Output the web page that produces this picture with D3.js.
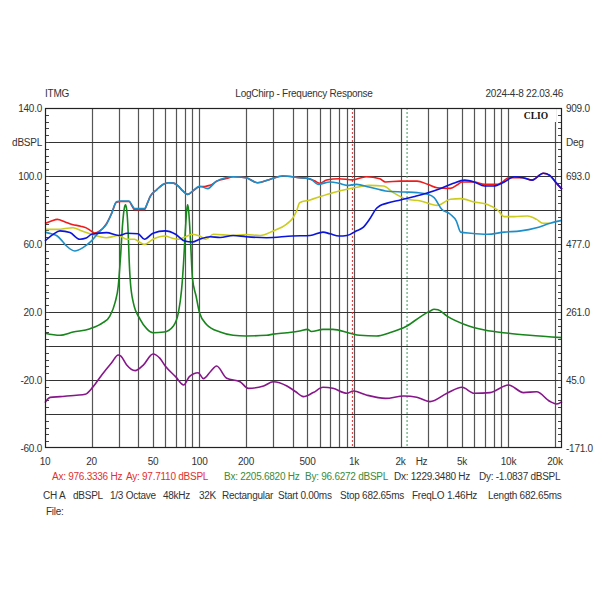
<!DOCTYPE html>
<html>
<head>
<meta charset="utf-8">
<script src="https://cdn.jsdelivr.net/npm/d3@7"></script>
<style>
body{margin:0;background:#fff;}
svg text{font-family:"Liberation Sans",Arial,sans-serif;letter-spacing:-0.25px;}
</style>
</head>
<body>
<svg class="chart"></svg>
<script>
// tick values / labels
var freqGrid = [20,30,40,50,60,70,80,90,100,200,300,400,500,600,700,800,900,1000,2000,3000,4000,5000,6000,7000,8000,9000,10000,20000];
var freqLabels = [[10,"10"],[20,"20"],[50,"50"],[100,"100"],[200,"200"],[500,"500"],[1000,"1k"],[2000,"2k"],[5000,"5k"],[10000,"10k"],[20000,"20k"]];
var dbTicks = [140,100,60,20,-20,-60];
var degTicks = [909,693,477,261,45,-171];

// series: [Hz, dBSPL]
var redData = [[10,72],[11,73.5],[12,74.5],[13.5,73],[15,71.5],[17,70.5],[18.5,69.5],[20,67.5],[21,66.5],[22.5,67.5],[25,72],[27,78],[29,84.5],[31,85],[35,85],[36.5,82.5],[38,80.2],[44,80.2],[46,84],[48,88],[53,92],[58,95],[63,96],[68,95.8],[73,94],[78,91.2],[84,89.2],[90,91],[100,93.7],[110,94],[117,94.5],[130,97],[150,98.5],[165,99.6],[200,99],[238,96],[285,98],[345,100],[445,99],[500,98.5],[560,97],[600,95.7],[665,97.6],[800,98.4],[976,97.7],[1200,99.6],[1470,98.4],[1600,96.5],[2000,97],[2560,97],[3000,95.1],[3450,93.1],[4200,92.7],[4700,95],[5000,96.5],[6000,96.5],[7000,95.1],[8500,95.1],[9300,97],[10000,99],[12400,99],[14200,97.6],[16800,101.6],[18500,100.4],[20300,96.1],[22200,92.2]];
var yellowData = [[10,68.6],[12,68.6],[15.2,69.6],[17,68],[20,65.7],[25,63.7],[30,65],[33.8,62.8],[38,62.8],[41,61],[44,59.8],[50,62.8],[60,64.7],[66,63.5],[73,62.8],[80,64],[90,65.7],[100,64.7],[110,62.8],[123,65.7],[165,65],[200,65.5],[247,65],[300,67.7],[365,71.6],[400,75],[425,79.4],[445,84.3],[520,85.9],[600,87.8],[730,90.2],[900,92.2],[1090,93.7],[1250,94.5],[1550,94.1],[1800,90.2],[2200,86.3],[2700,85.3],[3450,82.7],[4200,86.3],[4900,86.7],[6000,84.7],[7300,83.3],[8500,80],[9400,76.1],[10900,76.1],[13300,76.5],[15200,74.5],[16700,72.2],[18500,72.2]];
var cyanData = [[10,67],[11,66],[12,64.7],[13,61.5],[13.8,58.8],[15.6,55.9],[17.6,57.9],[20,61.8],[22.7,67.7],[25,71.6],[27,78],[29,84.8],[31,85.3],[35,85.3],[36.5,83],[38,80.8],[44,80.8],[46,84],[48,88],[53,92],[58,95],[63,96],[68,95.8],[73,94],[78,91.2],[84,89.2],[90,91],[100,94],[113,92.6],[129,97],[165,99.6],[200,99],[238,96],[285,98],[345,100],[445,99],[520,98.4],[585,95.1],[700,96.5],[800,95.7],[900,94.5],[1040,95.1],[1250,93.5],[1470,92],[1600,91.2],[2100,90.6],[2560,90.2],[3000,89.2],[3300,87.3],[3700,80.4],[4200,77.5],[4600,73.5],[4900,67],[5700,66.3],[7300,65.7],[9400,67],[12000,67.7],[15200,69.6],[18600,72.2],[22200,73.9]];
var blueData = [[10,61.8],[11.3,65.7],[12.5,67.7],[14.5,66.7],[16.8,62.8],[18.5,63.5],[20,65.7],[25,66.7],[30,65],[34,66.3],[40,66],[44,62.8],[50,66.3],[60,67.7],[70,65.7],[80,61.8],[90,61.2],[100,62.8],[117,64.3],[136,63.8],[165,65],[200,64.3],[272,63.7],[400,64.7],[520,65],[630,67],[700,66],[800,64.7],[900,65],[1040,67.8],[1140,69.6],[1270,75],[1400,81],[1470,82.5],[1620,83.9],[2000,85.9],[2430,87.8],[2940,89.8],[3600,92.5],[4400,95.7],[5200,97.6],[6000,96.5],[7000,94.1],[8000,94.1],[9400,96.5],[10900,99.6],[12400,99],[14200,97.6],[16800,101.6],[18500,100.4],[20300,96.1],[22200,92.2]];
var greenData = [[10,7.5],[12.5,6.3],[15.2,8.2],[19.6,10.2],[23.7,13.7],[26.3,17.6],[28.4,25.5],[29.8,35.3],[30.8,52],[31.8,72],[32.6,81],[33.2,83],[33.8,80],[34.5,68],[35,52],[35.6,39],[37.3,25.5],[41.3,15.7],[45.5,10.2],[50,7.8],[59,8.2],[67.8,11.8],[73,19.6],[76.6,33.3],[79,50],[81,68],[82.7,80],[83.7,83],[85,80],[86.5,70],[88,57],[90,40],[95,29.4],[100,19.6],[111,12.7],[136,8.2],[165,6.3],[200,5.9],[272,6.3],[300,7],[368,7.8],[445,8.8],[500,9.8],[530,8.5],[630,9.8],[730,9.8],[940,7.5],[1090,6.3],[1400,5.9],[1700,7.8],[2200,11.8],[2700,17.3],[3100,20.5],[3300,21.6],[3500,21.3],[4000,17.6],[5200,12.7],[7000,9.4],[10000,7.5],[13700,6.3],[22200,4.9]];
var purpleData = [[10,-33.3],[10.8,-30.2],[12.5,-29.8],[16,-29],[18.2,-28.4],[20.5,-23.9],[23.3,-17],[27,-9.8],[29.8,-5.3],[31,-6],[33.8,-11.2],[38.3,-14.5],[43.3,-11.2],[50,-4.7],[55.5,-7.3],[60,-11.8],[70,-18],[79,-22.9],[86,-18],[98,-15.7],[106,-19.2],[118,-15],[129,-11.8],[150,-19],[183,-21],[207,-24.9],[260,-23.5],[300,-21],[368,-23.5],[420,-26.9],[470,-29.8],[545,-27.4],[630,-24.3],[730,-24.9],[900,-27.8],[990,-26.5],[1200,-28.8],[1600,-30.8],[2100,-29.4],[2550,-30.2],[3100,-32.7],[4000,-27.8],[5000,-24.3],[6000,-27.8],[7600,-27.4],[10000,-22.9],[12500,-27.4],[15200,-26.9],[18600,-32.7],[20500,-34.1],[22200,-32.7]];

var markerA = 976.3336, markerB = 2205.682;

(function(){
var svg = d3.select(".chart").attr("width",600).attr("height",600);

var pl = 45, pr = 562, pt = 108, pb = 448;
var x = d3.scaleLog().domain([10,22200]).range([pl,pr]);
var y = d3.scaleLinear().domain([-60,140]).range([pb,pt]);
var yDeg = d3.scaleLinear().domain([-171,909]).range([pb,pt]);

// header
var head = svg.append("g").attr("font-size","10px").attr("fill","#333");
head.append("text").attr("x",45).attr("y",97).text("ITMG");
head.append("text").attr("x",304).attr("y",97).attr("text-anchor","middle").text("LogChirp - Frequency Response");
head.append("text").attr("x",563).attr("y",97).attr("text-anchor","end").text("2024-4-8 22.03.46");

// grid
svg.append("g").selectAll("line").data(freqGrid).enter().append("line")
  .attr("x1",function(d){return Math.round(x(d))+0.5;})
  .attr("x2",function(d){return Math.round(x(d))+0.5;})
  .attr("y1",pt).attr("y2",pb)
  .attr("stroke","#555").attr("stroke-width",1.2);

svg.append("g").selectAll("line").data(d3.range(-40,140,20)).enter().append("line")
  .attr("x1",pl).attr("x2",pr)
  .attr("y1",function(d){return Math.round(y(d))+0.5;})
  .attr("y2",function(d){return Math.round(y(d))+0.5;})
  .attr("stroke","#333").attr("stroke-width",1);

// minor ticks on both sides
var minor = d3.range(-56,140,4);
svg.append("g").selectAll("line").data(minor).enter().append("line")
  .attr("x1",pl).attr("x2",pl+4)
  .attr("y1",function(d){return Math.round(y(d))+0.5;})
  .attr("y2",function(d){return Math.round(y(d))+0.5;})
  .attr("stroke","#444");
svg.append("g").selectAll("line").data(minor).enter().append("line")
  .attr("x1",pr-4).attr("x2",pr)
  .attr("y1",function(d){return Math.round(y(d))+0.5;})
  .attr("y2",function(d){return Math.round(y(d))+0.5;})
  .attr("stroke","#444");

// cursors
svg.append("line")
  .attr("x1",x(markerA)).attr("x2",x(markerA)).attr("y1",pt).attr("y2",pb)
  .attr("stroke","#e03030").attr("stroke-dasharray","2,2").attr("stroke-width",1);
svg.append("line")
  .attr("x1",x(markerB)).attr("x2",x(markerB)).attr("y1",pt).attr("y2",pb)
  .attr("stroke","#3a9a5a").attr("stroke-dasharray","2,2").attr("stroke-width",1);

// CLIO badge (covers the grid at the top right)
svg.append("rect").attr("x",510).attr("y",109).attr("width",46).attr("height",13).attr("fill","#fff");
svg.append("text").attr("x",536).attr("y",119).attr("text-anchor","middle")
  .attr("font-size","9.5px").attr("font-weight","bold")
  .style("font-family","'Liberation Serif','DejaVu Serif',serif")
  .style("letter-spacing","0")
  .attr("fill","#111").text("CLIO");

// curves
var line = d3.line()
  .x(function(d){return x(d[0]);})
  .y(function(d){return y(d[1]);})
  .curve(d3.curveMonotoneX);

var series = [
  {data:greenData, color:"#18861c"},
  {data:purpleData, color:"#86168a"},
  {data:redData, color:"#ee1c1c"},
  {data:yellowData, color:"#cccc1e"},
  {data:cyanData, color:"#1e8ec8"},
  {data:blueData, color:"#0a14dc"}
];
svg.append("g").selectAll("path").data(series).enter().append("path")
  .attr("d",function(d){return line(d.data);})
  .attr("fill","none")
  .attr("stroke",function(d){return d.color;})
  .attr("stroke-width",1.6)
  .attr("stroke-linejoin","round");

// frame
svg.append("rect")
  .attr("x",pl+0.5).attr("y",pt+0.5)
  .attr("width",pr-pl-1).attr("height",pb-pt-1)
  .attr("fill","none").attr("stroke","#222").attr("stroke-width",1.2);

// axis labels
var axisText = svg.append("g").attr("font-size","10px").attr("fill","#333");
axisText.selectAll(".yl").data(dbTicks).enter().append("text")
  .attr("x",42).attr("y",function(d){return y(d)+4;})
  .attr("text-anchor","end").text(function(d){return d.toFixed(1);});
axisText.append("text").attr("x",42).attr("y",y(120)+4).attr("text-anchor","end").text("dBSPL");
axisText.selectAll(".yr").data(degTicks).enter().append("text")
  .attr("x",566).attr("y",function(d){return yDeg(d)+4;})
  .text(function(d){return d.toFixed(1);});
axisText.append("text").attr("x",566).attr("y",y(120)+4).text("Deg");
axisText.selectAll(".xl").data(freqLabels).enter().append("text")
  .attr("x",function(d){return x(d[0]);}).attr("y",465)
  .attr("text-anchor","middle").text(function(d){return d[1];});
axisText.append("text").attr("x",x(2000)+21).attr("y",465).attr("text-anchor","middle").text("Hz");

// readouts
var info = svg.append("g").attr("font-size","10px");
var line1 = [
  [52,"Ax: 976.3336 Hz","#e03030"],[126,"Ay: 97.7110 dBSPL","#e03030"],
  [224,"Bx: 2205.6820 Hz","#3a8a3a"],[305,"By: 96.6272 dBSPL","#3a8a3a"],
  [394,"Dx: 1229.3480 Hz","#333"],[479,"Dy: -1.0837 dBSPL","#333"]
];
info.selectAll(".l1").data(line1).enter().append("text")
  .attr("x",function(d){return d[0];}).attr("y",480)
  .attr("fill",function(d){return d[2];}).text(function(d){return d[1];});
var line2 = [[43,"CH A"],[73,"dBSPL"],[110,"1/3 Octave"],[163,"48kHz"],[199,"32K"],[222,"Rectangular"],[278,"Start 0.00ms"],[340,"Stop 682.65ms"],[412,"FreqLO 1.46Hz"],[488,"Length 682.65ms"]];
info.selectAll(".l2").data(line2).enter().append("text")
  .attr("x",function(d){return d[0];}).attr("y",499)
  .attr("fill","#333").text(function(d){return d[1];});
info.append("text").attr("x",46).attr("y",515).attr("fill","#333").text("File:");
})();
</script>
</body>
</html>
